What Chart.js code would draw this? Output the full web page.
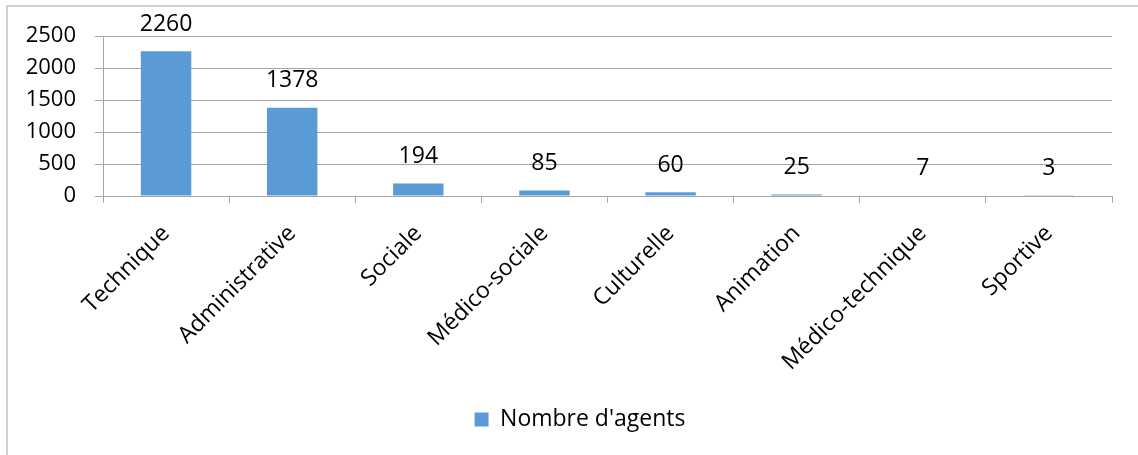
<!DOCTYPE html>
<html>
<head>
<meta charset="utf-8">
<script src="https://cdn.jsdelivr.net/npm/chart.js@4/dist/chart.umd.min.js"></script>
<style>
  html, body { margin: 0; padding: 0; background: #fff; overflow: hidden; }
  #wrap { position: relative; width: 1138px; height: 455px; }
  #frame { position: absolute; left: 6px; top: 5px; width: 1200px; height: 600px;
           border: 2px solid #d0d0d0; pointer-events: none; }
</style>
</head>
<body>
<div id="wrap">
  <canvas id="chart" width="1138" height="455"></canvas>
  <div id="frame"></div>
</div>
<script>
const categories = ["Technique", "Administrative", "Sociale", "Médico-sociale",
  "Culturelle", "Animation", "Médico-technique", "Sportive"];
const agents = [2260, 1378, 194, 85, 60, 25, 7, 3];
const yTicks = [0, 500, 1000, 1500, 2000, 2500];
const seriesName = "Nombre d'agents";

const FONT = "'Open Sans', 'Liberation Sans', sans-serif";
const gridGray = "#a6a6a6";

/* values above the bars */
const valueLabels = {
  id: "valueLabels",
  afterLayout(chart) {
    // legend sits a bit right of the plot centre in the original
    chart.legend.left += 24;
    chart.legend.right += 24;
  },
  afterDatasetsDraw(chart) {
    const ctx = chart.ctx;
    const meta = chart.getDatasetMeta(0);
    ctx.save();
    ctx.font = "23px " + FONT;
    ctx.fillStyle = "#000";
    ctx.textAlign = "center";
    ctx.textBaseline = "middle";
    meta.data.forEach((bar, i) => {
      ctx.fillText(String(agents[i]), bar.x, bar.y - 27);
    });
    ctx.restore();
  }
};

const chart = new Chart(document.getElementById("chart"), {
  type: "bar",
  data: {
    labels: categories,
    datasets: [{
      label: seriesName,
      data: agents,
      backgroundColor: "#5b9bd5",
      borderWidth: 0,
      barPercentage: 0.4,
      categoryPercentage: 1
    }]
  },
  options: {
    responsive: false,
    animation: false,
    events: [],
    layout: { padding: { top: 36, right: 26, left: 0, bottom: 14 } },
    plugins: {
      legend: {
        position: "bottom",
        labels: {
          font: { family: FONT, size: 23 },
          color: "#000",
          boxWidth: 14,
          boxHeight: 14,
          padding: 10
        }
      },
      tooltip: { enabled: false }
    },
    scales: {
      x: {
        grid: {
          offset: true,
          drawOnChartArea: false,
          drawTicks: true,
          tickLength: 7,
          color: gridGray
        },
        border: { color: gridGray },
        ticks: {
          minRotation: 45,
          maxRotation: 45,
          autoSkip: false,
          color: "#000",
          font: { family: FONT, size: 23 },
          padding: 17
        },
        afterFit(scale) { scale.height = 202; }
      },
      y: {
        min: 0,
        max: 2500,
        afterBuildTicks(scale) { scale.ticks = yTicks.map(v => ({ value: v })); },
        grid: { color: gridGray, tickLength: 8, drawTicks: true },
        border: { color: gridGray },
        ticks: {
          color: "#000",
          font: { family: FONT, size: 22 },
          padding: 19,
          callback: v => String(v)
        },
        afterFit(scale) { scale.width = 103; }
      }
    }
  },
  plugins: [valueLabels]
});
</script>
</body>
</html>
